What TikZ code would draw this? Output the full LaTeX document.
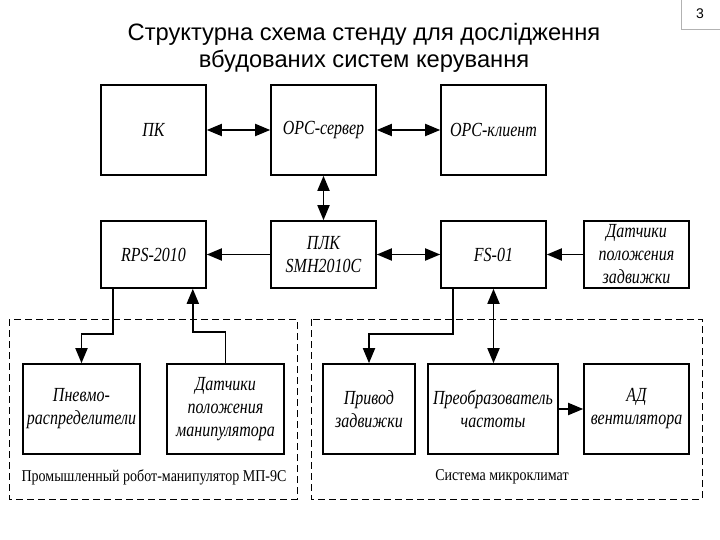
\documentclass[tikz,border=0pt]{standalone}
\usepackage{fontspec}
\setmainfont{Liberation Serif}
\newfontfamily\boxfont{Liberation Serif}[FakeStretch=0.8]
\newfontfamily\lblfont{Liberation Serif}[FakeStretch=0.85]
\newfontfamily\titlefont{Liberation Sans}
\usetikzlibrary{arrows.meta}
\tikzset{
  blk/.style={draw, line width=1.6pt, minimum width=105pt, minimum height=90pt,
    inner sep=0pt, align=center, font=\boxfont\itshape\fontsize{20}{23}\selectfont},
  cn/.style={line width=1.8pt},
  tip/.style={-{Triangle[length=15pt,width=12pt]}},
  tips/.style={{Triangle[length=15pt,width=12pt]}-{Triangle[length=15pt,width=12pt]}},
  grp/.style={draw, line width=0.9pt, dash pattern=on 7pt off 4pt},
  lbl/.style={font=\lblfont\fontsize{16.5}{20}\selectfont, inner sep=0pt},
}
\begin{document}
\begin{tikzpicture}[x=1pt,y=-1pt]
\useasboundingbox (0,0) rectangle (720,540);
\fill[white] (0,0) rectangle (720,540);
% title
\node[font=\titlefont\fontsize{23.7}{27}\selectfont, align=center] (title) at (364,48)
  {Структурна схема стенду для дослідження\\вбудованих систем керування};
% page number
\draw[gray!60, line width=0.8pt] (681,-2) rectangle (722,29);
\node[font=\titlefont\fontsize{14}{16}\selectfont] (pg) at (700,14) {3};
% groups
\draw[grp] (9,319) rectangle (297,499);
\draw[grp] (311,319) rectangle (702,499);
% top row
\node[blk] (pk) at (153.5,130) {ПК};
\node[blk] (opcs) at (323.5,130) {OPC-сервер};
\node[blk] (opck) at (493.5,130) {OPC-клиент};
% second row
\node[blk, minimum height=67pt] (rps) at (153.5,254.5) {RPS-2010};
\node[blk, minimum height=67pt] (plk) at (323.5,254.5) {ПЛК\\SMH2010C};
\node[blk, minimum height=67pt] (fs) at (493.5,254.5) {FS-01};
\node[blk, minimum height=67pt] (dz) at (636.5,254.5) {Датчики\\положения\\задвижки};
% bottom row
\node[blk, minimum width=117pt] (pn) at (81.5,409) {Пневмо-\\распределители};
\node[blk, minimum width=117pt] (dm) at (225.5,409) {Датчики\\положения\\манипулятора};
\node[blk, minimum width=92pt] (pr) at (369,409) {Привод\\задвижки};
\node[blk, minimum width=130pt] (pch) at (493,409) {Преобразователь\\частоты};
\node[blk] (ad) at (636.5,409) {АД\\вентилятора};
% group labels
\node[lbl] (l1) at (154,477) {Промышленный робот-манипулятор МП-9С};
\node[lbl] (l2) at (502,477) {Система микроклимат};
% connectors
\draw[cn, tips] (pk.east) -- (opcs.west);
\draw[cn, tips] (opcs.east) -- (opck.west);
\draw[cn, tips] (opcs.south) -- (plk.north);
\draw[cn, tip] (plk.west) -- (rps.east);
\draw[cn, tips] (plk.east) -- (fs.west);
\draw[cn, tip] (dz.west) -- (fs.east);
\draw[cn, tip] ([xshift=13pt]rps.south west) -- ++(0,45) -| (pn.north);
\draw[cn, tip] (dm.north) -- ++(0,-31) -| ([xshift=-14pt]rps.south east);
\draw[cn, tip] ([xshift=13pt]fs.south west) -- ++(0,45) -| (pr.north);
\draw[cn, tips] (fs.south) -- (fs.south |- pch.north);
\draw[cn, tip] (pch.east) -- (ad.west);
\end{tikzpicture}
\end{document}
